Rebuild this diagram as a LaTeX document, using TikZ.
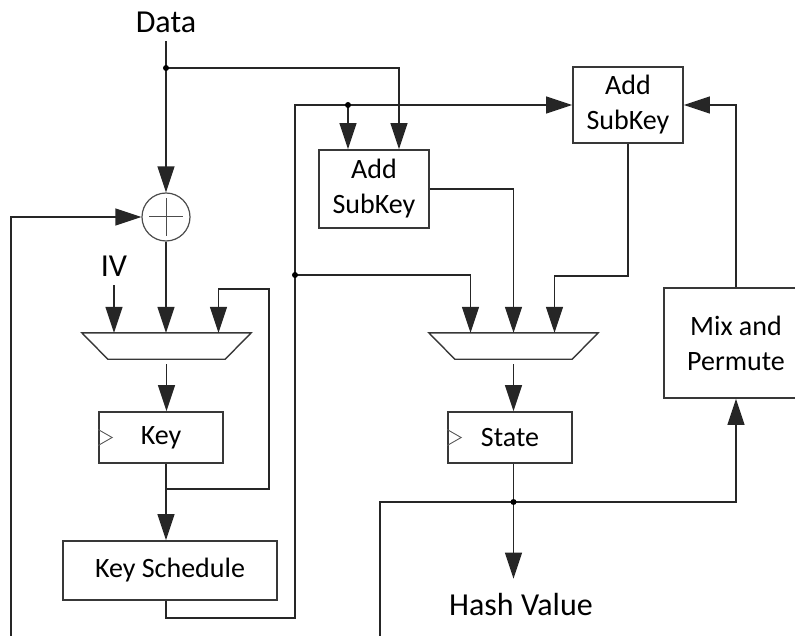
\documentclass[tikz,border=0pt]{standalone}
\usepackage{fontspec}
\setmainfont{Carlito}
\usetikzlibrary{arrows.meta}

\begin{document}
\begin{tikzpicture}[x=1pt, y=-1pt,
    wire/.style={line width=1.4pt, draw=black!85},
    flow/.style={wire, -{Triangle[length=26pt, width=17pt]}},
    block/.style={draw=black!78, line width=1.7pt, align=center, inner sep=0pt, font=\fontsize{28}{35}\selectfont},
    mux/.style={minimum width=169pt, minimum height=26pt, inner sep=0pt},
    lbl/.style={inner sep=8pt, font=\fontsize{32}{38}\selectfont},
    dot/.style={circle, fill=black, minimum size=6pt, inner sep=0pt},
    clk/.style={draw=black!65, line width=0.9pt}]
    \useasboundingbox (0,0) rectangle (795,636);
    \clip (0,0) rectangle (795,636);

    \node[lbl, anchor=base] (data) at (166,33) {Data};
    \node[circle, draw=black!70, line width=1.2pt, minimum size=48pt] (xor) at (166,217) {};
    \node[lbl, anchor=base] (iv) at (114,277) {IV};
    \node[mux] (mux1) at (166.5,346) {};
    \node[block, minimum width=124pt, minimum height=51pt] (key) at (161,437.5) {Key};
    \node[block, minimum width=214pt, minimum height=59pt] (ksched) at (170,570.5) {Key Schedule};
    \node[block, minimum width=110pt, minimum height=78pt] (ask1) at (374,189) {Add\\SubKey};
    \node[block, minimum width=110pt, minimum height=76pt] (ask2) at (628,105) {Add\\SubKey};
    \node[mux] (mux2) at (513.5,346) {};
    \node[block, minimum width=124pt, minimum height=51pt] (state) at (510,437.5) {State};
    \node[block, minimum width=144pt, minimum height=110pt] (mix) at (736,343) {Mix and\\Permute};
    \node[lbl, anchor=base] (hash) at (521,615) {Hash Value};

    \coordinate (d1) at (166,68);
    \coordinate (d2) at (348,105);
    \coordinate (d3) at (295,275);
    \coordinate (d4) at (513.5,502);
    \coordinate (kfb) at (166,489);
    \coordinate (kup) at (269,289);
    \coordinate (kbus) at (295,618);
    \coordinate (lfb) at (11,640);
    \coordinate (rfb) at (380,640);

    % mux bodies, xor, clock marks
    \foreach \m in {mux1,mux2}
        \draw[black!78, line width=1.4pt] (\m.north west) -- (\m.north east)
            -- ([xshift=-26pt]\m.south east) -- ([xshift=26pt]\m.south west) -- cycle;
    \draw[black!70, line width=1pt]
        ([xshift=-17pt]xor.center) -- ([xshift=17pt]xor.center)
        ([yshift=-19pt]xor.center) -- ([yshift=19pt]xor.center);
    \foreach \r in {key,state}
        \draw[clk] ([yshift=8pt]\r.west) -- ++(14,8) -- ++(-14,8);

    % key path
    \draw[flow] (data.south) -- (xor.north);
    \draw[flow] (xor.south) -- (xor.south |- mux1.north);
    \draw[flow] (iv.south) -- (iv.south |- mux1.north);
    \draw[flow] (kfb) -| (kup) -| ([xshift=52pt]mux1.north);
    \draw[flow, shorten <=5pt] (mux1.south) -- (mux1.south |- key.north);
    \draw[flow] (key.south -| xor) -- (ksched.north -| xor);
    \draw[flow] (ksched.south -| xor) |- (kbus) |- (ask2.west);
    \draw[flow] (lfb) |- (xor.west);

    % state path
    \draw[flow] (d1) -| ([xshift=25pt]ask1.north);
    \draw[flow] (d2) -- (d2 |- ask1.north);
    \draw[flow] (d3) -| ([xshift=-43pt]mux2.north);
    \draw[flow] (ask1.east) -| (mux2.north);
    \draw[flow] (ask2.south) -- ++(0,132) -| ([xshift=41pt]mux2.north);
    \draw[flow] (mix.north) |- (ask2.east);
    \draw[flow, shorten <=5pt] (mux2.south) -- (mux2.south |- state.north);
    \draw[flow, shorten >=6pt] (state.south -| mux2.south) -- (mux2.south |- hash.north);
    \draw[flow] (d4) -| (mix.south);
    \draw[wire] (d4) -| (rfb);

    \foreach \p in {d1,d2,d3,d4}
        \node[dot] at (\p) {};
\end{tikzpicture}
\end{document}
